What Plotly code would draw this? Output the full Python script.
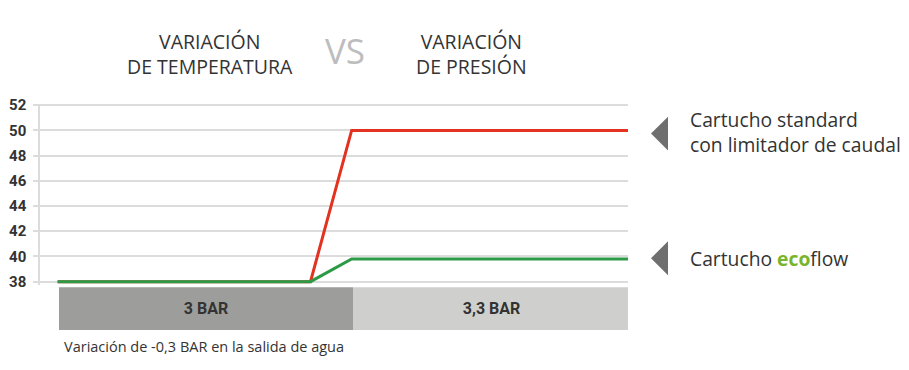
import plotly.graph_objects as go

# ---- data ----
time_points = [3, 46, 53, 100]
standard_temp = [38, 38, 50, 50]
ecoflow_temp = [38, 38, 39.8, 39.8]

y_ticks = [38, 40, 42, 44, 46, 48, 50, 52]

pressure_labels = ["3 BAR", "3,3 BAR"]
pressure_start = [3.2, 53.2]
pressure_end = [53.2, 100.3]

# page body has an 8px margin; keep the figure inside the window
OFF = 8
W, H = 909 - 2 * OFF, 370 - 2 * OFF
L, R = 40 - OFF, 628 - OFF


def fy(y):
    # vertical calibration
    return (y - 6.3) / 0.969


def px(x):
    return (x - OFF - L) / (R - L)


def py(y):
    return 1 - (y - OFF) / H


RED = "#e3321f"
GREEN = "#2d9a47"
GRID = "#dcdcdc"
DARK = "#333333"
FONT = "Open Sans, DejaVu Sans, sans-serif"
NARROW = "Liberation Sans Narrow, Arial Narrow, Roboto, sans-serif"

fig = go.Figure()

fig.add_trace(go.Scatter(x=time_points, y=standard_temp, mode="lines",
                         line=dict(color=RED, width=3), name="Cartucho standard",
                         xaxis="x", yaxis="y"))
fig.add_trace(go.Scatter(x=time_points, y=ecoflow_temp, mode="lines",
                         line=dict(color=GREEN, width=3), name="Cartucho ecoflow",
                         xaxis="x", yaxis="y"))

centers = [(s + e) / 2 for s, e in zip(pressure_start, pressure_end)]
widths = [e - s for s, e in zip(pressure_start, pressure_end)]
fig.add_trace(go.Bar(x=centers, y=[1, 1], width=widths,
                     marker=dict(color=["#9d9d9b", "#cfd0cd"], line=dict(width=0)),
                     text=pressure_labels,
                     textposition="inside", insidetextanchor="middle",
                     textfont=dict(family=NARROW, size=16, color=DARK, weight="bold"),
                     xaxis="x", yaxis="y2", hoverinfo="skip"))

y52, y38 = fy(104.5), fy(281.5)
ppu = (y38 - y52) / 14
ymin, ymax = 37.7, 52.1
top_px = y52 - (ymax - 52) * ppu
bot_px = y38 + (38 - ymin) * ppu

fig.update_layout(
    width=W, height=H,
    margin=dict(l=L, r=W - R, t=0, b=0, pad=0),
    plot_bgcolor="white", paper_bgcolor="white",
    showlegend=False,
    bargap=0,
    xaxis=dict(range=[0, 100], showgrid=False, zeroline=False, showticklabels=False,
               ticks="", showline=False, fixedrange=True),
    yaxis=dict(domain=[py(bot_px), py(top_px)], range=[ymin, ymax],
               tickvals=y_ticks, ticktext=[str(v) for v in y_ticks],
               showgrid=True, gridcolor=GRID, gridwidth=1.5, zeroline=False,
               ticks="outside", ticklen=5, tickcolor=GRID, tickwidth=1.5,
               showline=True, linecolor=GRID, linewidth=1.5,
               ticklabelstandoff=4,
               tickfont=dict(family=NARROW, size=15, color=DARK, weight="bold")),
    yaxis2=dict(domain=[py(fy(330)), py(fy(287))], range=[0, 1], showgrid=False,
                zeroline=False, showticklabels=False, showline=False),
)

# title texts
fig.add_annotation(x=px(210), y=py(48), xref="paper", yref="paper",
                   text="VARIACIÓN<br>DE TEMPERATURA", showarrow=False,
                   font=dict(family=FONT, size=19.5, color=DARK),
                   xanchor="center", yanchor="middle", align="center")
fig.add_annotation(x=px(345), y=py(45), xref="paper", yref="paper",
                   text="VS", showarrow=False,
                   font=dict(family=FONT, size=35, color="#bdbdbd"),
                   xanchor="center", yanchor="middle")
fig.add_annotation(x=px(471), y=py(48), xref="paper", yref="paper",
                   text="VARIACIÓN<br>DE PRESIÓN", showarrow=False,
                   font=dict(family=FONT, size=19.5, color=DARK),
                   xanchor="center", yanchor="middle", align="center")

# right labels
fig.add_annotation(x=px(688), y=py(129.5), xref="paper", yref="paper",
                   text="Cartucho standard<br>con limitador de caudal", showarrow=False,
                   font=dict(family=FONT, size=19.3, color=DARK),
                   xanchor="left", yanchor="middle", align="left")
fig.add_annotation(x=px(688), y=py(260), xref="paper", yref="paper",
                   text="Cartucho <b><span style='color:#78b52c'>eco</span></b>flow",
                   showarrow=False,
                   font=dict(family=FONT, size=19.3, color=DARK),
                   xanchor="left", yanchor="middle", align="left")

# triangles
for cy in (fy(133), fy(258)):
    hh = 17.5
    path = (f"M {px(651)} {py(cy)} L {px(668)} {py(cy - hh)} "
            f"L {px(668)} {py(cy + hh)} Z")
    fig.add_shape(type="path", path=path, xref="paper", yref="paper",
                  fillcolor="#6f6f6f", line=dict(width=0))

# bottom note
fig.add_annotation(x=px(62), y=py(351), xref="paper", yref="paper",
                   text="Variación de -0,3 BAR en la salida de agua", showarrow=False,
                   font=dict(family=FONT, size=14.5, color=DARK),
                   xanchor="left", yanchor="middle")

fig.write_html("out.html")
